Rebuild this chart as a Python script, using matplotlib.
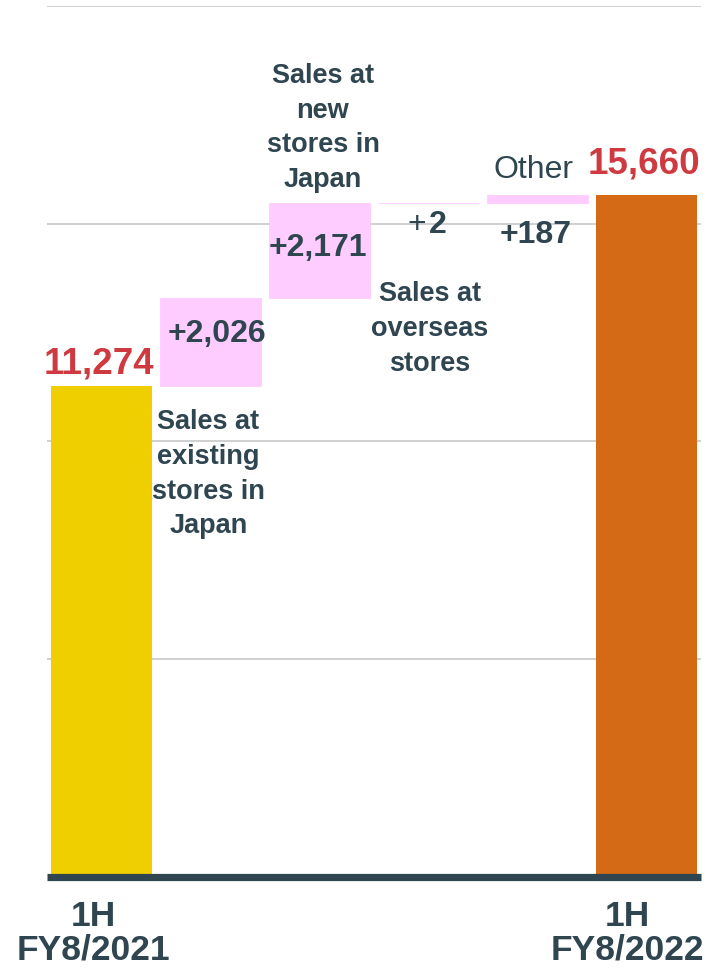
import matplotlib.pyplot as plt

plt.rcParams['font.family'] = ['Liberation Sans', 'DejaVu Sans']

# half-year sales bridge (million yen)
start_value = 11274
end_value = 15660
steps = [2026, 2171, 2, 187]
step_names = ['Sales at\nexisting\nstores in\nJapan',
              'Sales at\nnew\nstores in\nJapan',
              'Sales at\noverseas\nstores',
              'Other']
period_labels = ['1H\nFY8/2021', '1H\nFY8/2022']

DARK = '#2f4550'
PINK = '#ffccff'
RED = '#cf3a40'
PT = 0.72  # points per pixel at dpi 100

fig = plt.figure(figsize=(7.07, 9.68), dpi=100)
ax = fig.add_axes([47 / 707, 1 - 877 / 968, 654 / 707, 871 / 968])

bottoms = []
level = start_value
for s in steps:
    bottoms.append(level)
    level += s

w = 0.92
ax.bar(0, start_value, width=w, color='#f0cf00', zorder=2)
ax.bar(range(1, 5), steps, bottom=bottoms, width=w, color=PINK,
       edgecolor=PINK, linewidth=0.6, zorder=2)
ax.bar(5, end_value, width=w, color='#d46a16', zorder=2)

ax.set_xlim(-0.5, 5.5)
ax.set_ylim(0, 20000)
ax.set_yticks([5000, 10000, 15000, 20000])
ax.yaxis.grid(True, color='#d0d0d0', linewidth=1.4, zorder=0)
ax.set_axisbelow(True)
ax.axhline(0, color=DARK, linewidth=5.2, zorder=3, clip_on=False,
           solid_capstyle='butt')
for sp in ax.spines.values():
    sp.set_visible(False)
ax.set_xticks([])
ax.tick_params(left=False, labelleft=False)


def label(txt, x, y, dx, dy, va, **kw):
    ax.annotate(txt, xy=(x, y), xytext=(dx * PT, dy * PT),
                textcoords='offset points', ha='center', va=va,
                color=kw.pop('color', DARK), **kw)


# totals
label(f'{start_value:,}', 0, start_value, -2.5, 13, 'baseline',
      fontsize=26.5, fontweight='bold', color=RED)
label(f'{end_value:,}', 5, end_value, -2.5, 22, 'baseline',
      fontsize=26.5, fontweight='bold', color=RED)

# step values
tops = [b + s for b, s in zip(bottoms, steps)]
label(f'+{steps[0]:,}', 1, tops[0], 6, -44, 'baseline',
      fontsize=23, fontweight='bold')
label(f'+{steps[1]:,}', 2, tops[1], -2, -53, 'baseline',
      fontsize=23, fontweight='bold')
label('+', 3, bottoms[2], -12, -30, 'baseline', fontsize=23)
label(f'{steps[2]:,}', 3, bottoms[2], 9, -30, 'baseline',
      fontsize=23, fontweight='bold')
label(f'+{steps[3]:,}', 4, bottoms[3], -2, -40, 'baseline',
      fontsize=23, fontweight='bold')

# step names
label(step_names[0], 1, bottoms[0], -2, -23, 'top',
      fontsize=19.5, fontweight='bold', linespacing=1.44)
label(step_names[1], 2, tops[1], 3.5, 10, 'bottom',
      fontsize=19.5, fontweight='bold', linespacing=1.44)
label(step_names[2], 3, bottoms[2], 1.5, -78, 'top',
      fontsize=19.5, fontweight='bold', linespacing=1.44)
label(step_names[3], 4, tops[3], -4, 17, 'baseline', fontsize=23)

# period labels under the axis
for x, txt, dx in [(0, period_labels[0], -8), (5, period_labels[1], -19)]:
    ax.annotate(txt, xy=(x, 0), xycoords=('data', 'axes fraction'),
                xytext=(dx * PT, -23 * PT), textcoords='offset points',
                ha='center', va='top', fontsize=25.5, fontweight='bold',
                color=DARK, linespacing=1.0, annotation_clip=False)

fig.savefig('out.png', dpi=100)
